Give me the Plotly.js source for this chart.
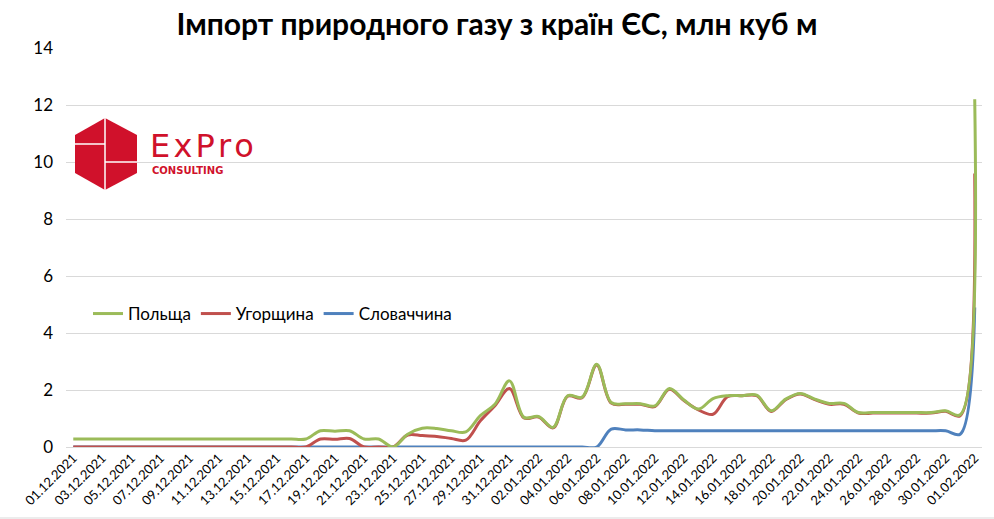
<!DOCTYPE html>
<html>
<head>
<meta charset="utf-8">
<script src="https://cdn.plot.ly/plotly-3.0.1.min.js"></script>
<style>html,body{margin:0;padding:0;background:#fff;}#chart{width:994px;height:519px;}</style>
</head>
<body>
<div id="chart"></div>
<script>
const dates = [
 "01.12.2021","02.12.2021","03.12.2021","04.12.2021","05.12.2021","06.12.2021","07.12.2021","08.12.2021","09.12.2021","10.12.2021",
 "11.12.2021","12.12.2021","13.12.2021","14.12.2021","15.12.2021","16.12.2021","17.12.2021","18.12.2021","19.12.2021","20.12.2021",
 "21.12.2021","22.12.2021","23.12.2021","24.12.2021","25.12.2021","26.12.2021","27.12.2021","28.12.2021","29.12.2021","30.12.2021",
 "31.12.2021","01.01.2022","02.01.2022","03.01.2022","04.01.2022","05.01.2022","06.01.2022","07.01.2022","08.01.2022","09.01.2022",
 "10.01.2022","11.01.2022","12.01.2022","13.01.2022","14.01.2022","15.01.2022","16.01.2022","17.01.2022","18.01.2022","19.01.2022",
 "20.01.2022","21.01.2022","22.01.2022","23.01.2022","24.01.2022","25.01.2022","26.01.2022","27.01.2022","28.01.2022","29.01.2022",
 "30.01.2022","31.01.2022","01.02.2022"
];
const poland = [
 0.28,0.28,0.28,0.28,0.28,0.28,0.28,0.28,0.28,0.28,
 0.28,0.28,0.28,0.28,0.28,0.28,0.28,0.57,0.55,0.57,
 0.28,0.28,0.0,0.45,0.66,0.65,0.57,0.53,1.1,1.5,
 2.32,1.04,1.07,0.69,1.8,1.75,2.9,1.56,1.52,1.52,
 1.44,2.05,1.65,1.33,1.7,1.8,1.8,1.82,1.27,1.68,
 1.88,1.68,1.53,1.53,1.21,1.21,1.21,1.21,1.21,1.21,
 1.27,1.13,12.2
];
const hungary = [
 0,0,0,0,0,0,0,0,0,0,
 0,0,0,0,0,0,0,0.28,0.27,0.3,
 0,0,0,0.42,0.40,0.37,0.3,0.24,0.92,1.45,
 2.05,1.02,1.05,0.67,1.78,1.73,2.88,1.54,1.5,1.5,
 1.42,2.03,1.63,1.3,1.15,1.77,1.8,1.8,1.25,1.66,
 1.86,1.66,1.5,1.5,1.19,1.19,1.19,1.19,1.19,1.19,
 1.25,1.1,9.6
];
const slovakia = [
 0,0,0,0,0,0,0,0,0,0,
 0,0,0,0,0,0,0,0,0,0,
 0,0,0,0,0,0,0,0,0,0,
 0,0,0,0,0,0,0,0.63,0.6,0.6,
 0.57,0.57,0.57,0.57,0.57,0.57,0.57,0.57,0.57,0.57,
 0.57,0.57,0.57,0.57,0.57,0.57,0.57,0.57,0.57,0.57,
 0.57,0.45,4.9
];
const seriesNames = ["Польща","Угорщина","Словаччина"];
const seriesColors = ["#9BBB59","#C0504D","#4F81BD"];
const yTicks = [0,2,4,6,8,10,12,14];
const tickDates = dates.filter((d,i)=>i%2===0);

const FONT = "Lato, 'Open Sans', sans-serif";
const W = 994, H = 519, L = 66, R = 12, T = 48, B = 72;
const pw = W - L - R, ph = H - T - B;
const px = x => (x - L) / pw;
const py = y => (H - B - y) / ph;

const mk = (name, vals, color) => ({
  x: dates, y: vals, name: name, type: "scatter", mode: "lines",
  line: {color: color, width: 3, shape: "spline", smoothing: 1},
  hoverinfo: "x+y+name"
});
// drawn bottom to top: Словаччина, Угорщина, Польща (legend reversed back)
const data = [
  mk(seriesNames[2], slovakia, seriesColors[2]),
  mk(seriesNames[1], hungary, seriesColors[1]),
  mk(seriesNames[0], poland, seriesColors[0])
];

const hex = [[75,135],[105,118],[137,135],[137,173],[105,190],[75,173]];
const hexPath = "M " + hex.map(p => px(p[0]) + "," + py(p[1])).join(" L ") + " Z";

const shapes = [
  {type:"path", xref:"paper", yref:"paper", path: hexPath, fillcolor:"#D0112B", line:{width:0}, layer:"above"},
  {type:"line", xref:"paper", yref:"paper", x0:px(105), x1:px(105), y0:py(118), y1:py(190), line:{color:"#fff", width:1.5}, layer:"above"},
  {type:"line", xref:"paper", yref:"paper", x0:px(75), x1:px(105), y0:py(144), y1:py(144), line:{color:"#fff", width:1.5}, layer:"above"},
  {type:"line", xref:"paper", yref:"paper", x0:px(105), x1:px(137), y0:py(162), y1:py(162), line:{color:"#fff", width:1.5}, layer:"above"},
  {type:"line", xref:"paper", yref:"paper", x0:px(0), x1:px(994), y0:py(518), y1:py(518), line:{color:"#D9D9D9", width:1}}
];

const annotations = [
  {xref:"paper", yref:"paper", x:px(148), y:py(146), xanchor:"left", yanchor:"middle", showarrow:false,
   text:"E&#8202;x&#8202;P&#8202;r&#8202;o", font:{family:"'DejaVu Sans', sans-serif", size:32, color:"#D0112B"}},
  {xref:"paper", yref:"paper", x:px(150), y:py(170), xanchor:"left", yanchor:"middle", showarrow:false,
   text:"<b>CONSULTING</b>", font:{family:"'DejaVu Sans', sans-serif", size:10, color:"#D0112B"}}
];

const layout = {
  width: W, height: H,
  margin: {l: L, r: R, t: T, b: B, pad: 0},
  paper_bgcolor: "#fff", plot_bgcolor: "#fff",
  font: {family: FONT, color: "#000"},
  title: {text: "<b>Імпорт природного газу з країн ЄС, млн куб м</b>", x: 0.5, xanchor: "center", y: 0.953, yanchor: "middle",
          font: {family: FONT, size: 30, color: "#000"}},
  showlegend: true,
  legend: {orientation: "h", traceorder: "reversed", x: px(88), y: py(314), xanchor: "left", yanchor: "middle",
           font: {family: FONT, size: 17, color: "#000"}, bgcolor: "rgba(0,0,0,0)", itemwidth: 30, tracegroupgap: 0},
  xaxis: {type: "category", range: [-0.5, dates.length - 0.5], tickmode: "array", tickvals: tickDates, ticktext: tickDates,
          tickangle: -45, tickfont: {family: FONT, size: 13, color: "#000"}, showgrid: false, zeroline: false,
          showline: false, ticks: "", fixedrange: true},
  yaxis: {range: [0, 14], tickmode: "array", tickvals: yTicks, showgrid: true, gridcolor: "#D9D9D9", gridwidth: 1,
          zeroline: true, zerolinecolor: "#D9D9D9", zerolinewidth: 1, showline: false, ticks: "",
          tickfont: {family: FONT, size: 17, color: "#000"}, ticklabelstandoff: 12, fixedrange: true},
  shapes: shapes,
  annotations: annotations
};

Plotly.newPlot("chart", data, layout, {displayModeBar: false, staticPlot: true});
</script>
</body>
</html>
